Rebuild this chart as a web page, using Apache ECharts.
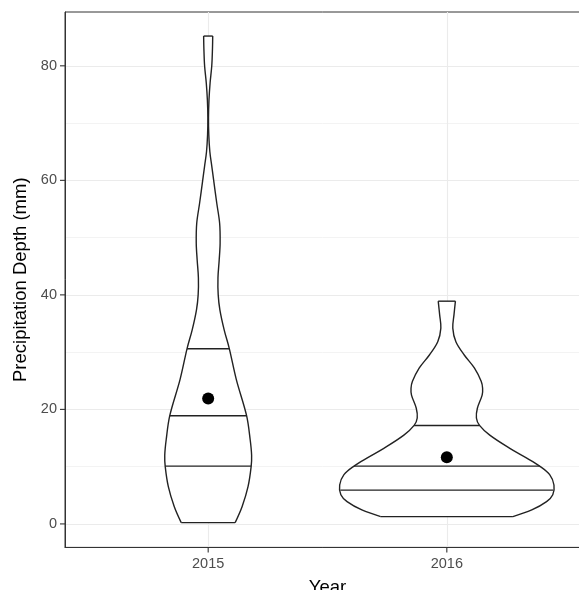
<!DOCTYPE html>
<html>
<head>
<meta charset="utf-8">
<script src="https://cdn.jsdelivr.net/npm/echarts@6/dist/echarts.min.js"></script>
<style>
html, body { margin: 0; padding: 0; background: #fff; }
#chart { width: 579px; height: 590px; }
</style>
</head>
<body>
<div id="chart"></div>
<script>
var years = ['2015', '2016'];

// violin outlines: depth (mm) and half width (x units)
var depth2015 = [0.23, 3.0, 6.5, 10.0, 12.0, 14.7, 18.9, 25.2, 30.7, 33.9, 37.4, 40, 43, 46, 49, 52.5, 56, 60, 62.5, 65, 68, 71, 74, 77, 80, 83, 85.2];
var half2015 = [0.113, 0.142, 0.167, 0.180, 0.182, 0.176, 0.161, 0.118, 0.088, 0.067, 0.049, 0.042, 0.041, 0.046, 0.050, 0.048, 0.036, 0.023, 0.015, 0.007, 0.0025, 0.0013, 0.0033, 0.008, 0.015, 0.018, 0.019];
var depth2016 = [1.28, 2.45, 3.9, 5.1, 6.8, 8.6, 10.1, 11.5, 13.2, 15.5, 17.2, 18.5, 20.2, 22.5, 23.7, 24.9, 27.2, 29.5, 31.8, 34.2, 36.5, 38.9];
var half2016 = [0.277, 0.356, 0.418, 0.444, 0.449, 0.431, 0.389, 0.335, 0.264, 0.180, 0.137, 0.124, 0.128, 0.148, 0.150, 0.144, 0.116, 0.073, 0.038, 0.025, 0.030, 0.036];

// quantile lines (25/50/75) and means
var quant2015 = [10.1, 18.9, 30.6];
var quant2016 = [5.9, 10.1, 17.2];
var means = [21.9, 11.65];

var yMajor = [0, 20, 40, 60, 80];
var yMinor = [10, 30, 50, 70];

var xMin = 0.4, xMax = 2.6, yMin = -4.1, yMax = 89.4;

var violins = [
    { depth: depth2015, half: half2015, quant: quant2015 },
    { depth: depth2016, half: half2016, quant: quant2016 }
];

function halfAt(v, d) {
    for (var k = 0; k < v.depth.length - 1; k++) {
        if (d >= v.depth[k] && d <= v.depth[k + 1]) {
            var t = (d - v.depth[k]) / (v.depth[k + 1] - v.depth[k]);
            return v.half[k] + t * (v.half[k + 1] - v.half[k]);
        }
    }
    return 0;
}

var lineCol = '#222222';
var font = 'Liberation Sans, Arial, Helvetica, sans-serif';

function renderViolin(params, api) {
    var v = violins[params.dataIndex];
    var cx = api.value(0);
    var n = v.depth.length;
    var right = [], left = [], poly = [];
    for (var k = 0; k < n; k++) {
        right.push(api.coord([cx + v.half[k], v.depth[k]]));
        left.push(api.coord([cx - v.half[k], v.depth[k]]));
    }
    poly = right.concat(left.slice().reverse());
    var st = { stroke: lineCol, lineWidth: 1.4, fill: null };
    var children = [
        { type: 'polygon', shape: { points: poly }, style: { fill: '#fff', stroke: null } },
        { type: 'polyline', shape: { points: right, smooth: 0.35 }, style: st },
        { type: 'polyline', shape: { points: left, smooth: 0.35 }, style: st },
        { type: 'line', shape: { x1: left[0][0], y1: left[0][1], x2: right[0][0], y2: right[0][1] }, style: st },
        { type: 'line', shape: { x1: left[n - 1][0], y1: left[n - 1][1], x2: right[n - 1][0], y2: right[n - 1][1] }, style: st }
    ];
    v.quant.forEach(function (q) {
        var h = halfAt(v, q);
        var a = api.coord([cx - h, q]);
        var b = api.coord([cx + h, q]);
        children.push({ type: 'line', shape: { x1: a[0], y1: a[1], x2: b[0], y2: b[1] }, style: st });
    });
    return { type: 'group', children: children };
}

// short outside ticks along the panel border
function renderTicks(params, api) {
    var st = { stroke: '#333333', lineWidth: 1.1 };
    var children = [];
    yMajor.forEach(function (t) {
        var p = api.coord([xMin, t]);
        children.push({ type: 'line', shape: { x1: p[0] - 5, y1: p[1], x2: p[0], y2: p[1] }, style: st });
    });
    years.forEach(function (y, i) {
        var p = api.coord([i + 1, yMin]);
        children.push({ type: 'line', shape: { x1: p[0], y1: p[1], x2: p[0], y2: p[1] + 5 }, style: st });
    });
    return { type: 'group', children: children };
}

var myChart = echarts.init(document.getElementById('chart'));

var option = {
    animation: false,
    backgroundColor: '#fff',
    grid: {
        left: 65,
        top: 12,
        width: 525,
        height: 535.4,
        outerBoundsMode: 'none',
        show: true,
        borderColor: '#333333',
        borderWidth: 1
    },
    xAxis: {
        type: 'value',
        min: xMin,
        max: xMax,
        name: 'Year',
        nameLocation: 'middle',
        nameGap: 31,
        nameTextStyle: { color: '#000', fontSize: 18.5, fontFamily: font },
        axisLine: { show: true, onZero: false, lineStyle: { color: '#333333', width: 1 } },
        axisTick: { show: false, customValues: [1, 2] },
        axisLabel: {
            customValues: [1, 2],
            formatter: function (val) { return years[Math.round(val) - 1]; },
            margin: 9,
            color: '#4d4d4d',
            fontSize: 14.5,
            fontFamily: font
        },
        splitLine: { show: true, lineStyle: { color: '#ebebeb', width: 1.1 } }
    },
    yAxis: [{
        type: 'value',
        min: yMin,
        max: yMax,
        name: 'Precipitation Depth (mm)',
        nameLocation: 'middle',
        nameGap: 32,
        nameTextStyle: { color: '#000', fontSize: 18.5, fontFamily: font },
        axisLine: { show: true, onZero: false, lineStyle: { color: '#333333', width: 1 } },
        axisTick: { show: false, customValues: yMajor },
        axisLabel: { customValues: yMajor, margin: 8, color: '#4d4d4d', fontSize: 14.5, fontFamily: font },
        splitLine: { show: true, lineStyle: { color: '#ebebeb', width: 1.1 } }
    }, {
        type: 'value',
        position: 'left',
        min: yMin,
        max: yMax,
        axisLine: { show: false, onZero: false },
        axisTick: { show: false, customValues: yMinor },
        axisLabel: { show: false },
        splitLine: { show: true, lineStyle: { color: '#f3f3f3', width: 1 } }
    }],
    series: [{
        type: 'custom',
        renderItem: renderViolin,
        encode: { x: 0, y: 1 },
        data: years.map(function (y, i) { return [i + 1, means[i]]; }),
        z: 2
    }, {
        type: 'scatter',
        symbolSize: 12,
        itemStyle: { color: '#000', opacity: 1 },
        data: years.map(function (y, i) { return [i + 1, means[i]]; }),
        z: 3
    }, {
        type: 'custom',
        renderItem: renderTicks,
        clip: false,
        silent: true,
        data: [[1, 0]],
        z: 4
    }]
};

myChart.setOption(option);
</script>
</body>
</html>
